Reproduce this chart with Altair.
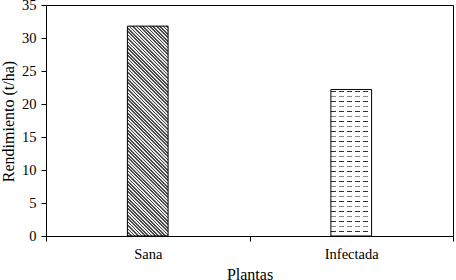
import altair as alt
import pandas as pd

# ---- data ----
plantas = ["Sana", "Infectada"]
rendimiento = [31.8, 22.2]
y_ticks = [0, 5, 10, 15, 20, 25, 30, 35]

df = pd.DataFrame({"Plantas": plantas, "Rendimiento": rendimiento})

# ---- layout ----
PW, PH = 407, 231
YMAX = 35
BAND = PW / len(plantas) * 0.2
FONT = "Liberation Serif"


def make_stops(period, segs, bg):
    out = []
    k = 0
    while k * period < 1:
        base = k * period
        for a, b, c in segs:
            o1 = base + a * period
            o2 = base + b * period
            if o1 >= 1:
                break
            o2 = min(o2, 1.0)
            out += [(o1, bg), (o1, c), (o2, c), (o2, bg)]
        k += 1
    return [alt.GradientStop(offset=round(o, 5), color=c) for o, c in out]


# Sana: fine diagonal hatch "\\\\"
H1 = rendimiento[0] * PH / YMAX
r = BAND / H1
b = (1 + r) / (1 + r * r) + 0.02
a = r * b
span1 = H1 * b * (1 + r * r)
grad_sana = alt.Gradient(
    gradient="linear", x1=0, y1=1, x2=a, y2=1 - b,
    stops=make_stops(3.4 / span1, [(0.0, 0.5, "#4a4a4a")], "#e8e8e8"),
)

# Infectada: horizontal dashed rows
H2 = rendimiento[1] * PH / YMAX
grad_rows = alt.Gradient(
    gradient="linear", x1=0, y1=0, x2=0, y2=1,
    stops=make_stops(10.0 / H2, [(0.12, 0.27, "#303030"), (0.62, 0.77, "#8a8a8a")], "#ffffff"),
)
grad_gaps = alt.Gradient(
    gradient="linear", x1=0, y1=0, x2=1, y2=0,
    stops=make_stops(8.0 / BAND, [(0.62, 1.0, "#ffffff")], "rgba(255,255,255,0)"),
)

x_enc = alt.X(
    "Plantas:N", sort=plantas,
    scale=alt.Scale(paddingInner=0, paddingOuter=0),
    axis=alt.Axis(
        title="Plantas", labelAngle=0, tickBand="extent", tickSize=5,
        labelPadding=6, labelFont=FONT, labelFontSize=14.5, labelColor="black",
        titleFont=FONT, titleFontSize=16, titleFontWeight="normal", titleColor="black",
        titleY=43, titleBaseline="alphabetic",
        domainColor="black", tickColor="black", grid=False,
    ),
)
y_enc = alt.Y(
    "Rendimiento:Q",
    scale=alt.Scale(domain=[0, YMAX], nice=False),
    axis=alt.Axis(
        title="Rendimiento (t/ha)", values=y_ticks, tickSize=5, labelPadding=5,
        labelFont=FONT, labelFontSize=14.5, labelColor="black",
        titleFont=FONT, titleFontSize=16, titleFontWeight="normal", titleColor="black",
        titleAngle=270, titleX=-38, titleY=116, titleAlign="center", titleBaseline="middle",
        domainColor="black", tickColor="black", grid=False,
    ),
)

base = alt.Chart(df).encode(x=x_enc, y=y_enc)

sana = base.transform_filter(alt.datum.Plantas == "Sana").mark_bar(
    width=alt.RelativeBandSize(0.2), fill=grad_sana, stroke="black", strokeWidth=1
)
inf_rows = base.transform_filter(alt.datum.Plantas == "Infectada").mark_bar(
    width=alt.RelativeBandSize(0.2), fill=grad_rows, strokeWidth=0
)
inf_gaps = base.transform_filter(alt.datum.Plantas == "Infectada").mark_bar(
    width=alt.RelativeBandSize(0.2), fill=grad_gaps, stroke="black", strokeWidth=1
)

chart = (
    alt.layer(sana, inf_rows, inf_gaps)
    .properties(
        width=PW, height=PH,
        padding={"left": 46, "top": 5, "right": 3, "bottom": 44},
        autosize=alt.AutoSizeParams(type="none"),
        background="white",
    )
    .configure_view(stroke="black", strokeWidth=1)
)

chart.save("out.html", embed_options={"renderer": "svg", "actions": False})
